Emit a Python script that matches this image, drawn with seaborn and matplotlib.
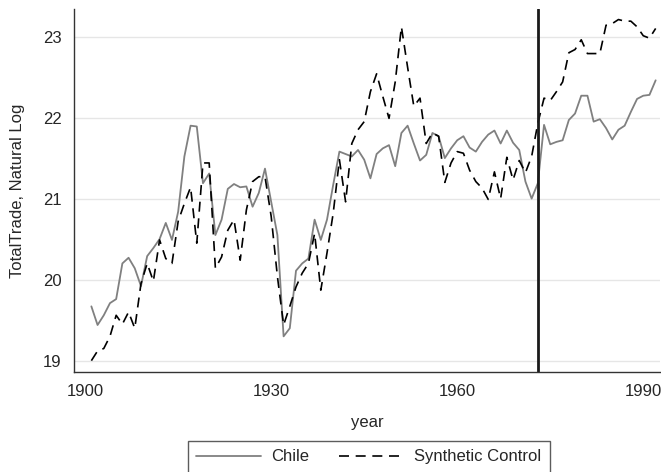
import numpy as np
import pandas as pd
import seaborn as sns
import matplotlib.pyplot as plt

years = list(range(1901, 1993))

chile = [19.67, 19.44, 19.56, 19.71, 19.76, 20.20, 20.27, 20.14, 19.92, 20.29,
         20.39, 20.50, 20.70, 20.49, 20.84, 21.52, 21.90, 21.89, 21.19, 21.31,
         20.55, 20.74, 21.12, 21.18, 21.14, 21.15, 20.90, 21.07, 21.37, 20.96,
         20.55, 19.30, 19.40, 20.11, 20.20, 20.26, 20.74, 20.49, 20.74, 21.17,
         21.58, 21.55, 21.52, 21.60, 21.48, 21.25, 21.55, 21.62, 21.66, 21.40,
         21.81, 21.90, 21.68, 21.47, 21.54, 21.81, 21.77, 21.50, 21.62, 21.72,
         21.77, 21.63, 21.58, 21.70, 21.79, 21.84, 21.68, 21.84, 21.69, 21.60,
         21.21, 21.00, 21.19, 21.91, 21.67, 21.70, 21.72, 21.97, 22.05, 22.27,
         22.27, 21.95, 21.98, 21.87, 21.73, 21.85, 21.90, 22.07, 22.23, 22.27,
         22.28, 22.46]

synthetic = [19.00, 19.12, 19.15, 19.30, 19.56, 19.45, 19.60, 19.40, 19.95, 20.20,
             19.98, 20.49, 20.26, 20.20, 20.72, 20.94, 21.14, 20.45, 21.44, 21.44,
             20.14, 20.28, 20.61, 20.74, 20.24, 20.86, 21.21, 21.27, 21.27, 20.78,
             20.04, 19.44, 19.67, 19.91, 20.08, 20.20, 20.57, 19.87, 20.33, 20.82,
             21.48, 20.96, 21.68, 21.85, 21.95, 22.32, 22.54, 22.26, 21.99, 22.44,
             23.12, 22.62, 22.14, 22.24, 21.68, 21.81, 21.77, 21.20, 21.44, 21.58,
             21.56, 21.35, 21.21, 21.13, 20.99, 21.33, 21.00, 21.51, 21.23, 21.47,
             21.32, 21.52, 21.93, 22.24, 22.21, 22.32, 22.44, 22.80, 22.84, 22.96,
             22.79, 22.79, 22.79, 23.14, 23.16, 23.21, 23.19, 23.19, 23.12, 23.01,
             22.98, 23.10]

treat_year = 1973

df = pd.DataFrame({"year": years, "Chile": chile, "Synthetic Control": synthetic})

sns.set_style("white")
plt.rcParams['font.family'] = ['Liberation Sans', 'DejaVu Sans']

fig = plt.figure(figsize=(6.61, 4.72), dpi=100)
ax = fig.add_axes([74 / 661, 1 - 372 / 472, 586 / 661, 363 / 472])

sns.lineplot(data=df, x="year", y="Chile", ax=ax, color="#808080", lw=1.3, label="Chile")
sns.lineplot(data=df, x="year", y="Synthetic Control", ax=ax, color="black", lw=1.2,
             linestyle=(0, (6, 4)), label="Synthetic Control")
ax.axvline(treat_year, color="#1a1a1a", lw=2)

ax.set_xlim(1898.2, 1992.7)
ax.set_ylim(18.86, 23.34)
ax.set_xticks([1900, 1930, 1960, 1990])
ax.set_yticks([19, 20, 21, 22, 23])
ax.yaxis.grid(True, color="#e6e6e6", lw=1)
ax.set_axisbelow(True)
for s in ["top", "right"]:
    ax.spines[s].set_visible(False)
for s in ["left", "bottom"]:
    ax.spines[s].set_color("#333333")
    ax.spines[s].set_linewidth(1)
ax.tick_params(direction="out", length=5, width=1, color="#333333", labelsize=12, pad=4)
ax.set_xlabel("year", fontsize=12, labelpad=11)
ax.set_ylabel("TotalTrade, Natural Log", fontsize=12, labelpad=13)

ax.get_legend().remove()
handles, labels = ax.get_legend_handles_labels()
leg = fig.legend(handles, labels, loc="upper center", bbox_to_anchor=(369 / 661, 1 - 441 / 472),
                 ncol=2, frameon=True, fancybox=False, edgecolor="#333333", fontsize=12,
                 handlelength=3.9, handletextpad=0.6, columnspacing=1.8,
                 borderpad=0.5, borderaxespad=0)
leg.get_frame().set_linewidth(1)

fig.savefig("out.png", dpi=100)
